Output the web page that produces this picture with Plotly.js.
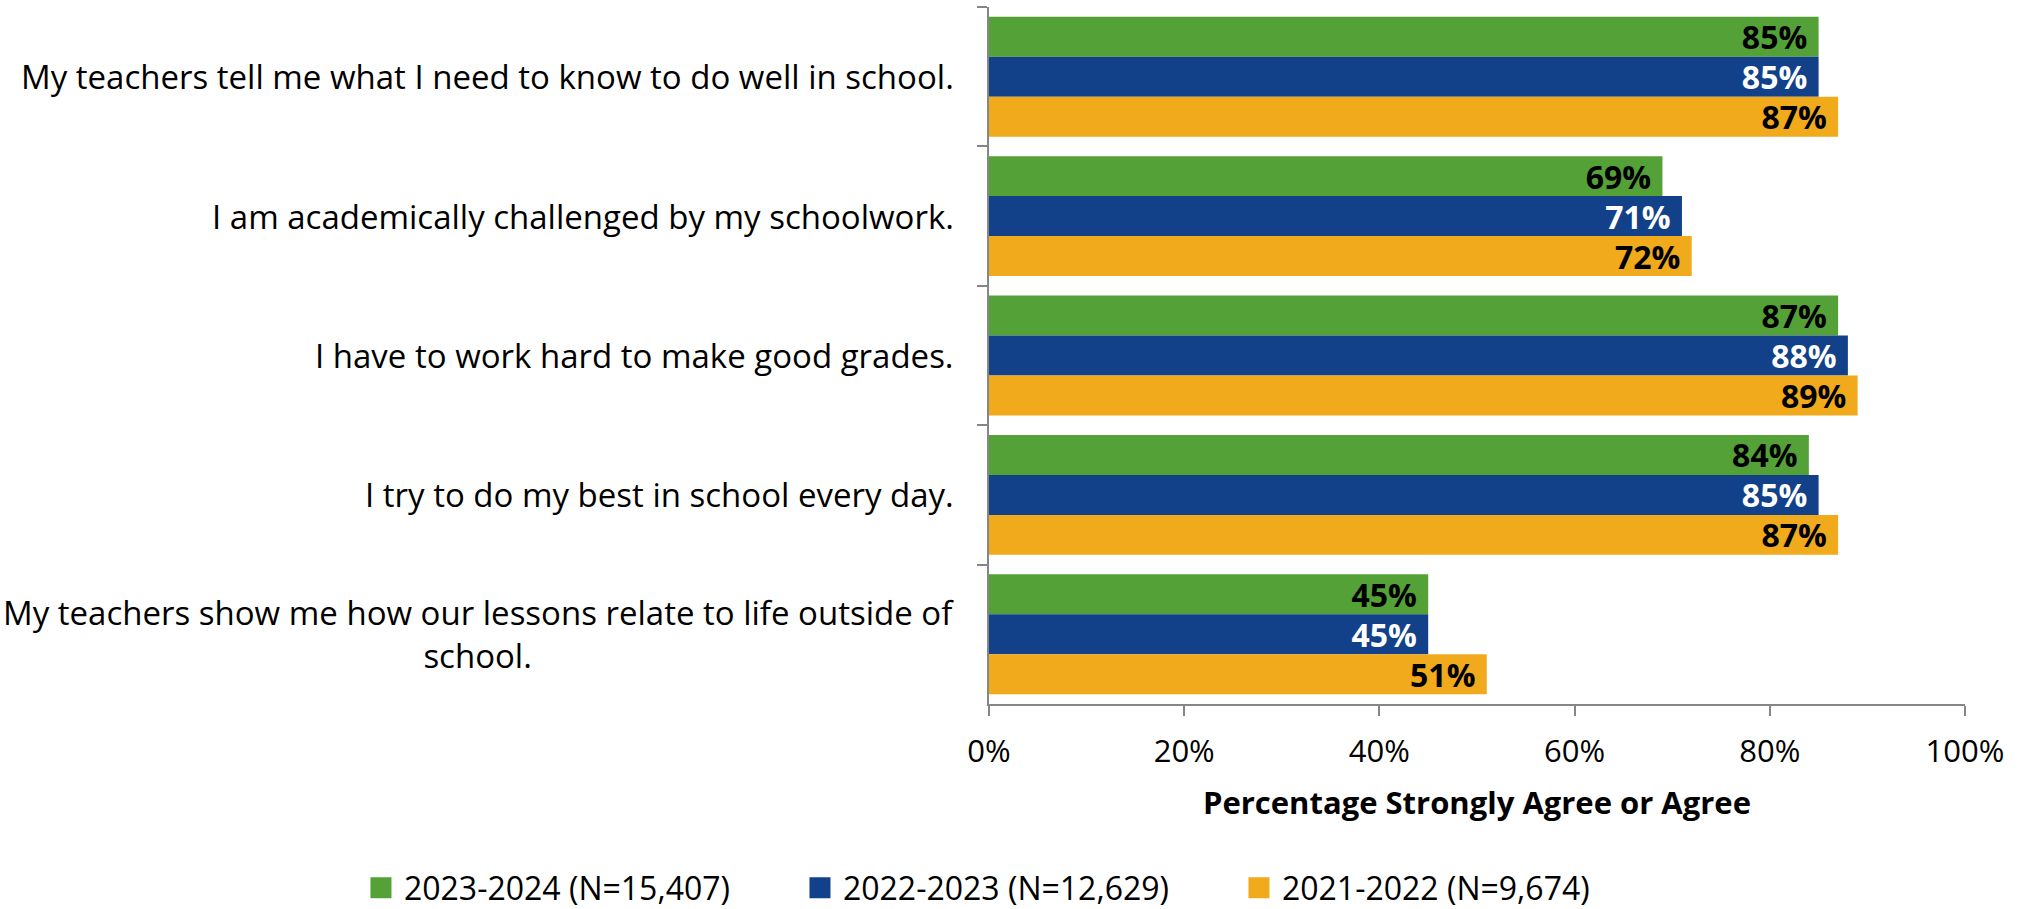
<!DOCTYPE html>
<html>
<head>
<meta charset="utf-8">
<script src="https://cdn.plot.ly/plotly-3.0.1.min.js"></script>
<style>html,body{margin:0;padding:0;background:#fff;}</style>
</head>
<body>
<div id="chart" style="width:2030px;height:909px;"></div>
<script>
const categories = [
  "My teachers tell me what I need to know to do well in school.",
  "I am academically challenged by my schoolwork.",
  "I have to work hard to make good grades.",
  "I try to do my best in school every day.",
  "My teachers show me how our lessons relate to life outside of<br>school."
];
const seriesNames = ["2023-2024 (N=15,407)", "2022-2023 (N=12,629)", "2021-2022 (N=9,674)"];
const values2024 = [85, 69, 87, 84, 45];
const values2023 = [85, 71, 88, 85, 45];
const values2022 = [87, 72, 89, 87, 51];
const xTickVals = [0, 20, 40, 60, 80, 100];
const xTickText = ["0%", "20%", "40%", "60%", "80%", "100%"];

const colors = ["#53A137", "#12418A", "#F0AA1B"];
const labelColors = ["#000000", "#FFFFFF", "#000000"];
const FONT = "Open Sans, sans-serif";
const allValues = [values2024, values2023, values2022];

const traces = allValues.map((vals, i) => ({
  type: "bar",
  orientation: "h",
  name: seriesNames[i],
  y: categories,
  x: vals,
  marker: {color: colors[i]},
  text: vals.map(v => v + "%\u00a0"),
  textposition: "inside",
  insidetextanchor: "end",
  textangle: 0,
  constraintext: "none",
  cliponaxis: false,
  textfont: {family: FONT, size: 32, color: labelColors[i], weight: 700},
  hoverinfo: "skip"
}));

const annotations = categories.map(c => ({
  xref: "paper", yref: "y",
  x: 0, y: c,
  xanchor: "right", yanchor: "middle",
  xshift: -33,
  align: "center",
  showarrow: false,
  text: c,
  font: {family: FONT, size: 33, color: "#000000"}
}));

const layout = {
  width: 2030, height: 909,
  margin: {l: 989, r: 65, t: 7, b: 205, autoexpand: false},
  paper_bgcolor: "#ffffff",
  plot_bgcolor: "#ffffff",
  barmode: "group",
  bargap: 0.14,
  bargroupgap: 0,
  font: {family: FONT, size: 31, color: "#000000"},
  showlegend: true,
  legend: {
    orientation: "h",
    x: -0.6404, xanchor: "left",
    y: -0.264, yanchor: "middle",
    traceorder: "normal",
    font: {family: FONT, size: 32, color: "#000000"},
    entrywidth: 394,
    entrywidthmode: "pixels"
  },
  xaxis: {
    range: [0, 100],
    tickvals: xTickVals,
    ticktext: xTickText,
    showgrid: false,
    zeroline: false,
    showline: true,
    linecolor: "#868686",
    linewidth: 2,
    ticks: "outside",
    ticklen: 10,
    tickwidth: 2,
    tickcolor: "#868686",
    ticklabelstandoff: 9,
    tickfont: {family: FONT, size: 31, color: "#000000"},
    title: {
      text: "Percentage Strongly Agree or Agree",
      font: {family: FONT, size: 31, color: "#000000", weight: 700},
      standoff: 22
    },
    fixedrange: true
  },
  yaxis: {
    type: "category",
    categoryorder: "array",
    categoryarray: categories,
    autorange: "reversed",
    showgrid: false,
    zeroline: false,
    showline: true,
    linecolor: "#868686",
    linewidth: 2,
    ticks: "outside",
    tickson: "boundaries",
    ticklen: 10,
    tickwidth: 2,
    tickcolor: "#868686",
    showticklabels: false,
    fixedrange: true
  },
  annotations: annotations
};

function enlargeLegendSymbols(gd) {
  gd.querySelectorAll("g.legendpoints path").forEach(p => {
    p.setAttribute("transform", "translate(17,0) scale(1.75)");
  });
}

const gdEl = document.getElementById("chart");
Plotly.newPlot(gdEl, traces, layout, {displayModeBar: false, staticPlot: true, responsive: false}).then(gd => {
  enlargeLegendSymbols(gd);
  gd.on && gd.on("plotly_afterplot", () => enlargeLegendSymbols(gd));
  setTimeout(() => enlargeLegendSymbols(gd), 0);
  setTimeout(() => enlargeLegendSymbols(gd), 200);
});
</script>
</body>
</html>
